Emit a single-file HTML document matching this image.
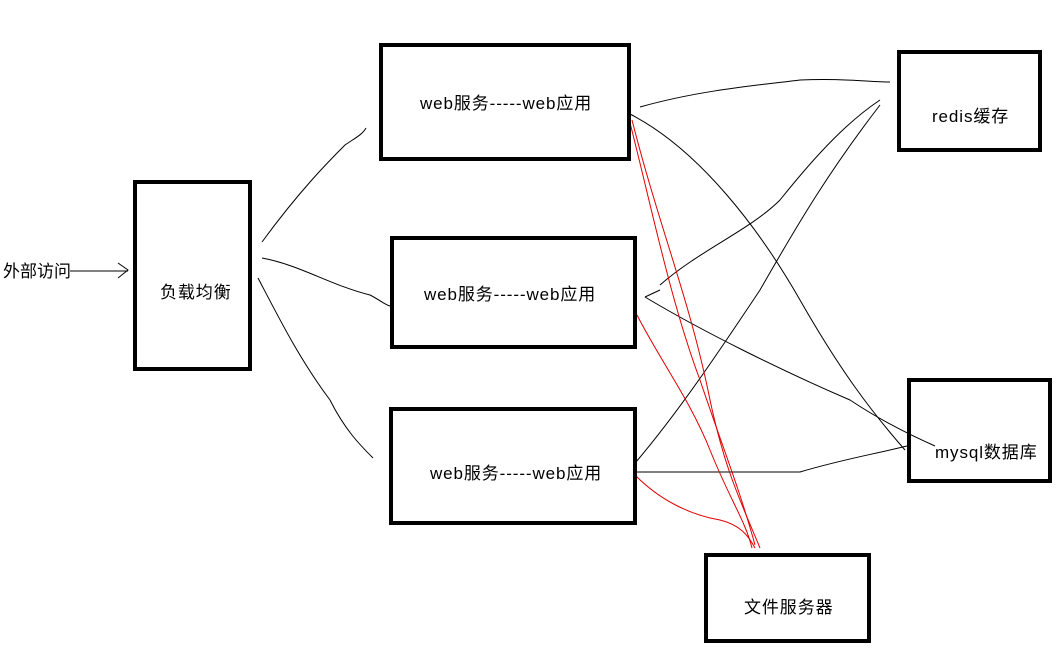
<!DOCTYPE html>
<html><head><meta charset="utf-8"><style>
html,body{margin:0;padding:0;background:#fff;}
body{width:1063px;height:659px;position:relative;overflow:hidden;font-family:"Liberation Sans","Noto Sans CJK SC",sans-serif;}
.b{position:absolute;border:4px solid #000;box-sizing:border-box;}
.t{position:absolute;font-size:17px;letter-spacing:0.9px;color:#000;line-height:20px;white-space:nowrap;}
svg{position:absolute;left:0;top:0;}
</style></head><body>
<svg width="1063" height="659" fill="none" stroke-width="1">
<g stroke="#000">
<path d="M70 271 L128 271"/>
<path d="M118 263 L128 270 L118 278"/>
<path d="M262 242 C300 190 330 160 345 145 C355 138 362 135 366 128"/>
<path d="M262 258 C300 265 330 285 370 295 C380 300 385 305 390 306"/>
<path d="M258 278 C280 320 300 360 330 400 C345 430 360 445 373 458"/>
<path d="M640 107 C700 90 760 85 800 80 C840 78 870 82 890 82"/>
<path d="M630 114 C700 150 760 230 800 300 C840 370 870 410 905 450"/>
<path d="M660 285 C700 250 750 230 780 200 C820 150 850 120 880 100"/>
<path d="M645 297 C700 330 780 370 850 400 C880 420 910 435 935 446"/>
<path d="M645 297 L660 290"/>
<path d="M636 462 C680 410 720 350 760 290 C800 220 830 170 880 105"/>
<path d="M636 472 L800 472 C840 460 870 455 907 446"/>
</g>
<g stroke="#e00000">
<path d="M628 115 C650 200 670 300 700 380 C720 440 740 490 755 545"/>
<path d="M632 120 C660 230 690 300 710 400 C725 470 740 500 760 548"/>
<path d="M637 315 C660 360 690 400 710 450 C730 500 745 520 752 548"/>
<path d="M636 476 C660 500 690 515 720 520 C740 525 748 535 755 548"/>
</g>
</svg>
<div class="t" style="left:3px;top:262px;letter-spacing:0">外部访问</div>
<div class="b" style="left:133px;top:180px;width:119px;height:191px;"></div>
<div class="t" style="left:160px;top:283px;">负载均衡</div>
<div class="b" style="left:379px;top:43px;width:252px;height:118px;"></div>
<div class="t" style="left:420px;top:94px;">web服务-----web应用</div>
<div class="b" style="left:390px;top:236px;width:247px;height:113px;"></div>
<div class="t" style="left:424px;top:285px;">web服务-----web应用</div>
<div class="b" style="left:389px;top:407px;width:248px;height:118px;"></div>
<div class="t" style="left:430px;top:464px;">web服务-----web应用</div>
<div class="b" style="left:897px;top:50px;width:145px;height:102px;"></div>
<div class="t" style="left:932px;top:107px;">redis缓存</div>
<div class="b" style="left:907px;top:378px;width:145px;height:105px;"></div>
<div class="t" style="left:935px;top:443px;">mysql数据库</div>
<div class="b" style="left:704px;top:553px;width:167px;height:90px;"></div>
<div class="t" style="left:744px;top:598px;">文件服务器</div>
</body></html>
